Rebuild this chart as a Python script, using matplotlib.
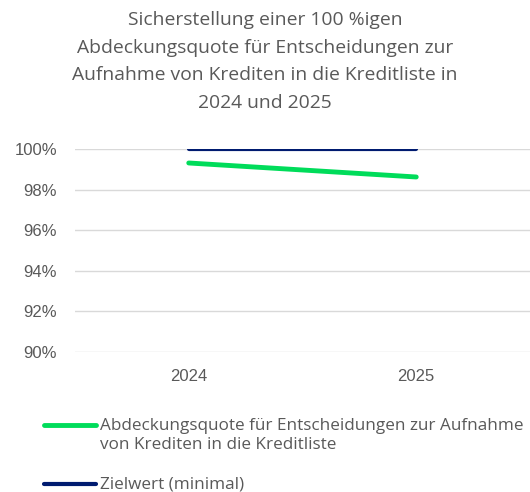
import matplotlib.pyplot as plt
from matplotlib.lines import Line2D
from matplotlib.ticker import PercentFormatter

years = ["2024", "2025"]
quote = [99.31, 98.62]
ziel = [100.0, 100.0]
labels = ["Abdeckungsquote für Entscheidungen zur Aufnahme\nvon Krediten in die Kreditliste",
          "Zielwert (minimal)"]
title = ("Sicherstellung einer 100 %igen\nAbdeckungsquote für Entscheidungen zur\n"
         "Aufnahme von Krediten in die Kreditliste in\n2024 und 2025")

plt.rcParams['font.family'] = ['Open Sans', 'DejaVu Sans']
grey = "#595959"

fig = plt.figure(figsize=(5.3, 4.92), dpi=100)
ax = fig.add_axes([0.1415, 0.2846, 0.8585, 0.4126])

x = range(len(years))
l1, = ax.plot(x, quote, color="#00DC5A", lw=3.5, solid_capstyle="round", zorder=3)
l2, = ax.plot(x, ziel, color="#001B70", lw=3.0, solid_capstyle="round", zorder=3)

ax.set_xlim(-0.5, 1.5)
ax.set_ylim(90, 100)
ax.set_yticks(range(90, 101, 2))
ax.yaxis.set_major_formatter(PercentFormatter(decimals=0))
ax.set_xticks(list(x))
ax.set_xticklabels(years)
ax.grid(axis="y", color="#D9D9D9", lw=1)
ax.set_axisbelow(True)
for s in ax.spines.values():
    s.set_visible(False)
ax.tick_params(length=0, labelsize=12, colors=grey, pad=13)
ax.tick_params(axis="x", pad=12)
for t in ax.get_xticklabels() + ax.get_yticklabels():
    t.set_fontfamily("Liberation Sans")

fig.text(0.5, 0.977, title, ha="center", va="top", fontsize=13.9, color=grey, linespacing=1.68)

# legend drawn by hand so the handle sits on the first text line
for line, lab, ytop, yh in zip([l1, l2], labels, [0.151, 0.032], [0.1362, 0.0163]):
    fig.add_artist(Line2D([0.083, 0.182], [yh, yh], transform=fig.transFigure,
                          color=line.get_color(), lw=line.get_linewidth(),
                          solid_capstyle="round"))
    fig.text(0.188, ytop, lab, ha="left", va="top", fontsize=12.3, color=grey,
             linespacing=1.3)

fig.savefig("out.png", dpi=100)
